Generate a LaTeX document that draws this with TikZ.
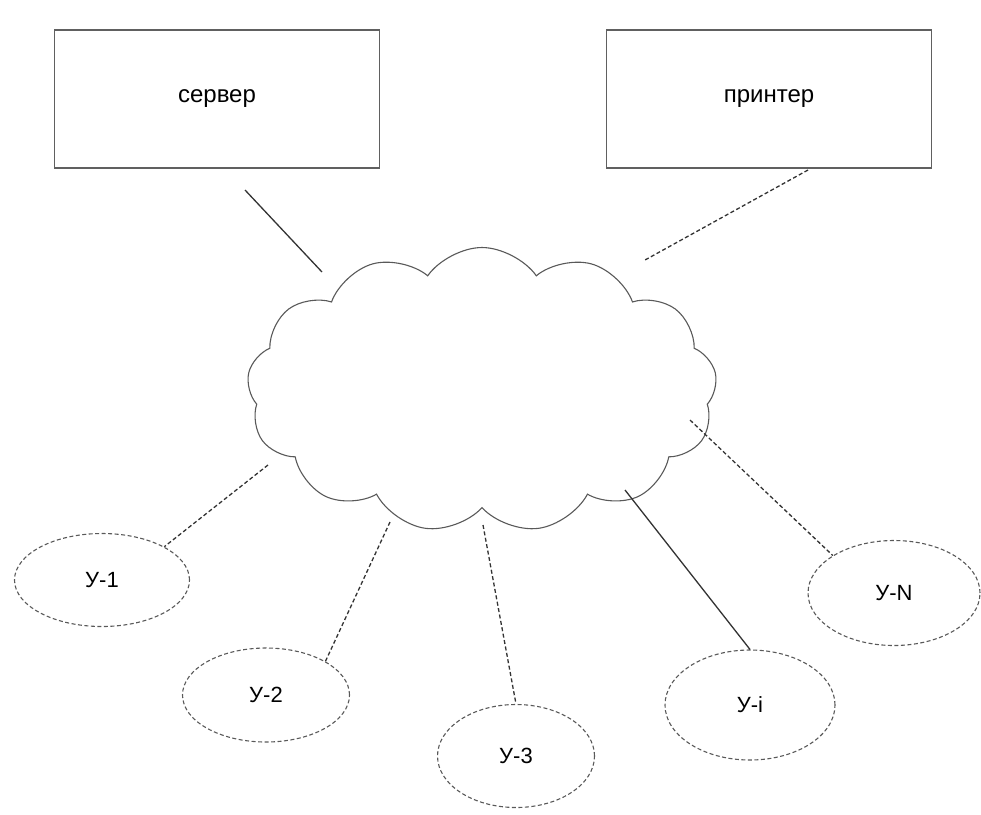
\documentclass[tikz,border=0pt]{standalone}
\usepackage{fontspec}
\setmainfont{Liberation Sans}
\usetikzlibrary{shapes.geometric,shapes.symbols}

\tikzset{
  box/.style={draw=gray!75!black, line width=1.4pt, minimum width=325pt, minimum height=138pt,
              font=\fontsize{24}{28}\selectfont},
  host/.style={draw=gray!70!black, ellipse, dashed, dash pattern=on 4pt off 2.5pt, line width=1.1pt,
               font=\fontsize{22}{26}\selectfont, inner sep=0pt},
  net/.style={draw=gray!70!black, cloud, cloud puffs=13, cloud puff arc=110, aspect=1.7,
              line width=1.1pt, minimum width=470pt, minimum height=285pt},
  link/.style={draw=black!80, line width=1.3pt},
  dlink/.style={link, dashed, dash pattern=on 4pt off 2.5pt}
}

\begin{document}
\begin{tikzpicture}[x=1pt,y=-1pt]
\useasboundingbox (0,0) rectangle (981,814);

% servers on top
\node[box] (srv) at (217,99) {сервер};
\node[box] (prn) at (769,99) {принтер};

% network cloud
\node[net] (cl) at (482,390) {};

% hosts
\node[host, minimum width=175pt, minimum height=93pt]  (h1) at (102,580) {У-1};
\node[host, minimum width=167pt, minimum height=94pt]  (h2) at (266,695) {У-2};
\node[host, minimum width=157pt, minimum height=103pt] (h3) at (516,756) {У-3};
\node[host, minimum width=170pt, minimum height=110pt] (h4) at (750,705) {У-i};
\node[host, minimum width=172pt, minimum height=105pt] (hn) at (894,593) {У-N};

% connector ends
\coordinate (srvE) at (245,190);
\coordinate (prnE) at (808,170);
\coordinate (c1) at (322,272);
\coordinate (c2) at (645,260);
\coordinate (c3) at (268,465);
\coordinate (c4) at (390,522);
\coordinate (c5) at (483,525);
\coordinate (c6) at (625,490);
\coordinate (c7) at (690,420);

% connectors
\draw[link]  (srvE) -- (c1);
\draw[dlink] (prnE) -- (c2);
\draw[dlink] (c3) -- (h1.north east);
\draw[dlink] (c4) -- (h2.north east);
\draw[dlink] (c5) -- (h3.north);
\draw[link]  (c6) -- (h4.north);
\draw[dlink] (c7) -- (hn.north west);
\end{tikzpicture}
\end{document}
